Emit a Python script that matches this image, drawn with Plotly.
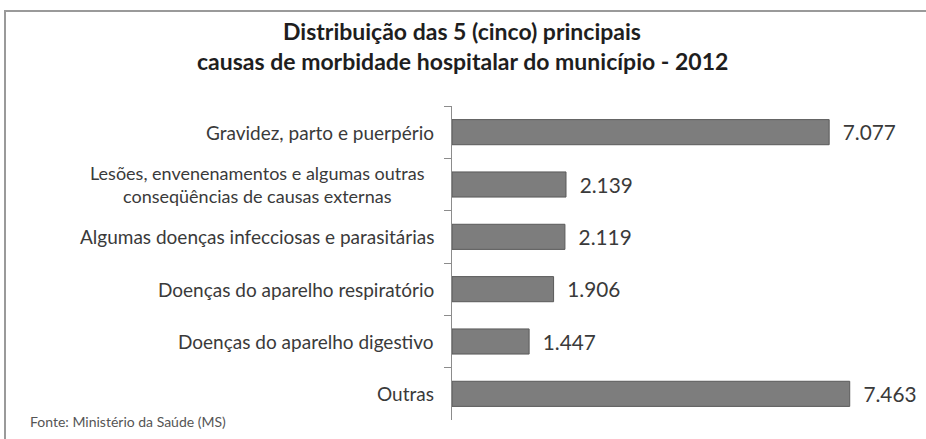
import plotly.graph_objects as go

categories = [
    "Gravidez, parto e puerpério",
    "Lesões, envenenamentos e algumas outras<br>conseqüências de causas externas",
    "Algumas doenças infecciosas e parasitárias",
    "Doenças do aparelho respiratório",
    "Doenças do aparelho digestivo",
    "Outras",
]
values = [7077, 2139, 2119, 1906, 1447, 7463]

title_lines = [
    "Distribuição das 5 (cinco) principais",
    "causas de morbidade hospitalar do município - 2012",
]
source_text = "Fonte: Ministério da Saúde (MS)"

FONT = "Lato"
W, H = 926, 439
L, R, T, B = 452, 21, 106, 19
pw, ph = W - L - R, H - T - B


def px_x(p):
    return (p - L) / pw


def px_y(p):
    return 1 - (p - T) / ph


fig = go.Figure()
fig.add_trace(go.Bar(
    x=values,
    y=categories,
    orientation="h",
    width=0.48,
    marker=dict(color="#7d7d7d", line=dict(color="#5a5a5a", width=1)),
    texttemplate="  %{x:,d}",
    textposition="outside",
    textfont=dict(family=FONT, size=24, color="#3a3a3a"),
    cliponaxis=False,
    hoverinfo="skip",
))

annotations = []
for c in categories:
    multi = "<br>" in c
    annotations.append(dict(
        x=px_x(257) if multi else px_x(436), xref="paper", y=c, yref="y",
        text=c, showarrow=False,
        xanchor="center" if multi else "right", yanchor="middle",
        align="center",
        font=dict(family=FONT, size=18 if multi else 19, color="#3a3a3a"),
    ))

for i, line in enumerate(title_lines):
    annotations.append(dict(
        x=px_x(462), xref="paper", y=px_y(31 + 30 * i), yref="paper",
        text="<b>" + line + "</b>", showarrow=False,
        xanchor="center", yanchor="middle",
        font=dict(family=FONT, size=23, color="#1e1e1e"),
    ))
annotations.append(dict(
    x=px_x(28), xref="paper", y=px_y(421), yref="paper",
    text=source_text, showarrow=False, xanchor="left", yanchor="middle",
    font=dict(family=FONT, size=14, color="#555555"),
))

fig.update_layout(
    width=W, height=H,
    margin=dict(l=L, r=R, t=T, b=B, pad=0),
    paper_bgcolor="white", plot_bgcolor="white",
    separators=",.",
    showlegend=False,
    annotations=annotations,
    shapes=[dict(
        type="rect", xref="paper", yref="paper",
        x0=px_x(5), x1=px_x(960), y0=px_y(11), y1=px_y(470),
        line=dict(color="#9a9a9a", width=2), fillcolor="rgba(0,0,0,0)",
        layer="below",
    )],
    xaxis=dict(range=[0, 8500], visible=False, fixedrange=True),
    yaxis=dict(
        categoryorder="array", categoryarray=categories,
        autorange="reversed",
        showticklabels=False,
        showline=True, linecolor="#8c8c8c", linewidth=1,
        ticks="outside", tickson="boundaries", ticklen=7, tickcolor="#8c8c8c",
        showgrid=False, zeroline=False, fixedrange=True,
    ),
)

fig.write_html(
    "out.html",
    config={"displayModeBar": False},
    post_script="document.body.style.margin='0';document.body.style.overflow='hidden';",
)
